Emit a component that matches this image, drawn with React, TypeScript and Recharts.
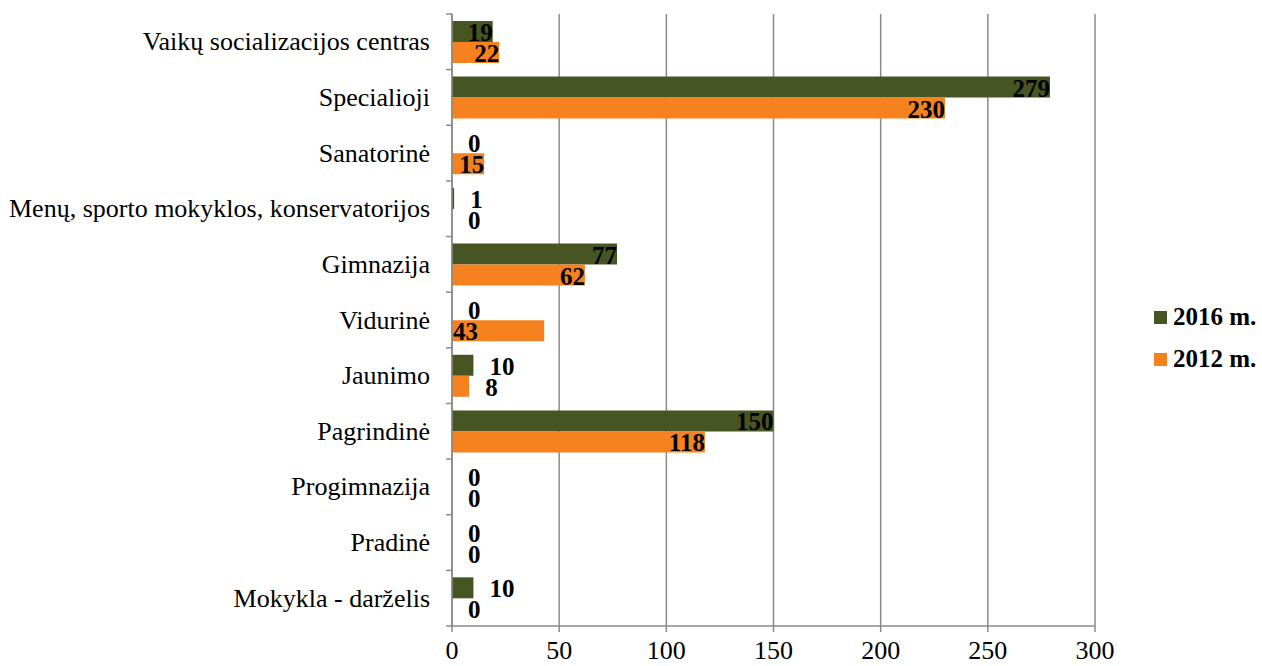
import React from 'react';
import { BarChart, Bar, XAxis, YAxis, CartesianGrid, LabelList } from 'recharts';

const categories = [
  'Vaikų socializacijos centras',
  'Specialioji',
  'Sanatorinė',
  'Menų, sporto mokyklos, konservatorijos',
  'Gimnazija',
  'Vidurinė',
  'Jaunimo',
  'Pagrindinė',
  'Progimnazija',
  'Pradinė',
  'Mokykla - darželis',
];
const values2016 = [19, 279, 0, 1, 77, 0, 10, 150, 0, 0, 10];
const values2012 = [22, 230, 15, 0, 62, 43, 8, 118, 0, 0, 0];
const seriesNames = ['2016 m.', '2012 m.'];
const xTicks = [0, 50, 100, 150, 200, 250, 300];

const data = categories.map((name, i) => ({ name, y2016: values2016[i], y2012: values2012[i] }));

const W = 1262;
const H = 666;
const LEFT = 452;
const TOP = 14;
const BOTTOM = 626;
const RIGHT = 1095;
const FONT = '"Times New Roman", "Liberation Serif", serif';
const GREEN = '#475523';
const ORANGE = '#F5821F';
const GRID = '#8a8a8a';

// labels Excel put at the base of the bar instead of its end
const baseLabels = new Set(['Vidurinė|y2012']);

const makeLabel = (key: string) => (props: any) => {
  const vb = props.viewBox || {};
  const x = Number(props.x ?? vb.x);
  const y = Number(props.y ?? vb.y);
  const w = Number(props.width ?? vb.width ?? 0);
  const h = Number(props.height ?? vb.height ?? 0);
  const value = props.value;
  const fs = 25;
  const textW = String(value).length * fs * 0.5;
  const end = x + w;
  const name = data[props.index]?.name;
  let tx = end;
  let anchor: 'start' | 'end' = 'end';
  if (baseLabels.has(`${name}|${key}`)) {
    tx = x + 1;
    anchor = 'start';
  } else if (w < textW + 5) {
    tx = end + 16;
    anchor = 'start';
  }
  return (
    <text x={tx} y={y + h / 2 + 1} textAnchor={anchor} dominantBaseline="central"
      fontFamily={FONT} fontSize={fs} fontWeight="bold" fill="#000">
      {value}
    </text>
  );
};

const band = (BOTTOM - TOP) / categories.length;

const CategoryTick = (props: any) => {
  const { y, payload, index } = props;
  const off = payload?.offset || band / 2;
  return (
    <g>
      <line x1={LEFT - 6} x2={LEFT} y1={y - off} y2={y - off} stroke={GRID} strokeWidth={1.5} />
      {index === categories.length - 1 && (
        <line x1={LEFT - 6} x2={LEFT} y1={y + off} y2={y + off} stroke={GRID} strokeWidth={1.5} />
      )}
      <text x={LEFT - 22} y={y} textAnchor="end" dominantBaseline="central"
        fontFamily={FONT} fontSize={26} fill="#000">
        {payload.value}
      </text>
    </g>
  );
};

const colors = [GREEN, ORANGE];

export default function App() {
  return (
    <div style={{ position: 'relative', width: W, height: H, background: '#fff' }}>
      <style>{`body{margin:0}`}</style>
      <BarChart width={W} height={H} data={data} layout="vertical"
        margin={{ top: TOP, right: W - RIGHT, bottom: 0, left: 0 }}
        barCategoryGap="12.5%" barGap={0}>
        <CartesianGrid horizontal={false} stroke={GRID} strokeWidth={1.5} />
        <XAxis type="number" domain={[0, 300]} ticks={xTicks} height={H - BOTTOM}
          axisLine={{ stroke: GRID, strokeWidth: 1.5 }} tickLine={{ stroke: GRID, strokeWidth: 1.5 }}
          tickSize={6} tickMargin={9}
          tick={{ fontFamily: FONT, fontSize: 26, fill: '#000' }} />
        <YAxis type="category" dataKey="name" width={LEFT} interval={0}
          axisLine={{ stroke: GRID, strokeWidth: 1.5 }} tickLine={false}
          tick={<CategoryTick />} />
        <Bar dataKey="y2016" name={seriesNames[0]} fill={GREEN} minPointSize={0.01} isAnimationActive={false}>
          <LabelList dataKey="y2016" content={makeLabel('y2016')} />
        </Bar>
        <Bar dataKey="y2012" name={seriesNames[1]} fill={ORANGE} minPointSize={0.01} isAnimationActive={false}>
          <LabelList dataKey="y2012" content={makeLabel('y2012')} />
        </Bar>
      </BarChart>
      <div style={{ position: 'absolute', left: 1154, top: 296, fontFamily: FONT }}>
        {seriesNames.map((s, i) => (
          <div key={s} style={{ display: 'flex', alignItems: 'center', height: 42 }}>
            <span style={{ width: 13, height: 13, background: colors[i], marginRight: 6 }} />
            <span style={{ fontSize: 25, fontWeight: 'bold', color: '#000' }}>{s}</span>
          </div>
        ))}
      </div>
    </div>
  );
}
